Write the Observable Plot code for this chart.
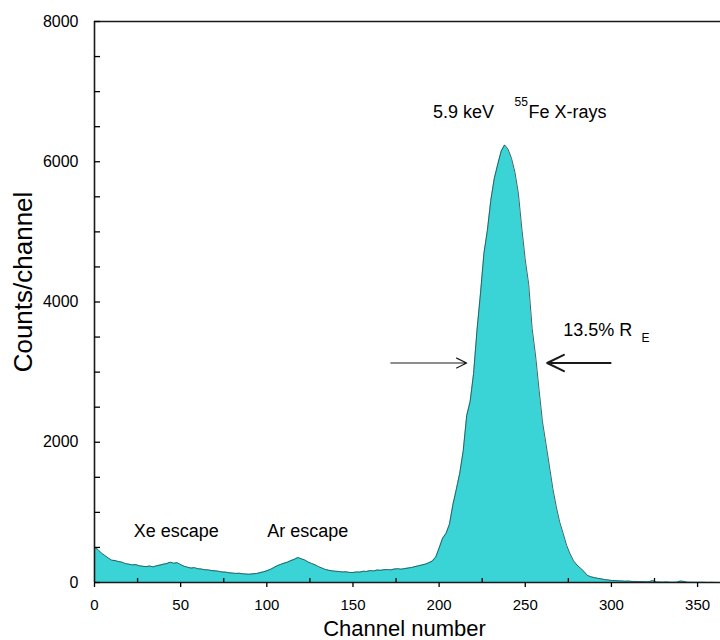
<!DOCTYPE html>
<html>
<head>
<meta charset="utf-8">
<script src="https://cdn.jsdelivr.net/npm/d3@7"></script>
<script src="https://cdn.jsdelivr.net/npm/@observablehq/plot@0.6"></script>
<style>
  html, body { margin: 0; padding: 0; background: #fff; }
  #chart svg { display: block; }
</style>
</head>
<body>
<div id="chart"></div>
<script>
// ---- data ----
const channelStep = 2; // counts below are sampled every 2 channels starting at channel 0
const counts = [
  500, 470, 420, 385, 350, 318, 312, 298, 290, 268,   // 0-18
  262, 250, 255, 238, 232, 226, 236, 222, 238, 248,   // 20-38
  262, 270, 290, 275, 282, 255, 232, 218, 205, 212,   // 40-58
  196, 192, 182, 180, 170, 166, 160, 150, 148, 138,   // 60-78
  134, 130, 132, 124, 120, 118, 124, 128, 140, 152,   // 80-98
  166, 186, 212, 238, 258, 276, 290, 312, 330, 356,   // 100-118
  338, 322, 292, 272, 252, 226, 206, 186, 174, 166,   // 120-138
  160, 156, 150, 152, 144, 142, 150, 148, 160, 158,   // 140-158
  170, 164, 178, 174, 182, 184, 180, 192, 196, 190,   // 160-178
  198, 206, 214, 226, 238, 250, 262, 280, 305, 360,   // 180-198
  490, 630, 700, 830, 1110, 1330, 1560, 1880, 2380, 2580,   // 200-218
  2980, 3600, 4120, 4690, 5020, 5450, 5760, 5960, 6150, 6240, // 220-238
  6180, 6050, 5850, 5550, 5050, 4600, 4250, 3620, 3230, 2750, // 240-258
  2290, 1980, 1660, 1340, 1080, 860, 700, 530, 410, 310,      // 260-278
  248, 205, 160, 102, 82, 70, 60, 52, 42, 36,                 // 280-298
  30, 28, 24, 22, 18, 20, 15, 16, 12, 14,                     // 300-318
  10, 12, 28, 8, 6, 5, 8, 4, 3, 5,                            // 320-338
  20, 16, 4, 3, 2, 2, 3, 2, 1, 2,                             // 340-358
  1, 1                                                        // 360-362
];
const xMajorTicks = [0, 50, 100, 150, 200, 250, 300, 350];
const xMinorTicks = [25, 75, 125, 175, 225, 275, 325];
const yMajorTicks = [0, 2000, 4000, 6000, 8000];
const yAllTicks = [0, 500, 1000, 1500, 2000, 2500, 3000, 3500, 4000, 4500, 5000, 5500, 6000, 6500, 7000, 7500, 8000];

// annotations
const labels = [
  {text: "Xe escape", ch: 22.8, c: 647, size: 18},
  {text: "Ar escape", ch: 100.2, c: 647, size: 18},
  {text: "5.9 keV", ch: 196.5, c: 6624, size: 18},
  {text: "55", ch: 243.8, c: 6790, size: 12},
  {text: "Fe X-rays", ch: 251.9, c: 6624, size: 18},
  {text: "13.5% R", ch: 272.0, c: 3514, size: 18},
  {text: "E", ch: 317.5, c: 3430, size: 12}
];
const arrowLeft = [{x1: 172, x2: 216, c: 3130}];
const arrowRight = [{x1: 299.5, x2: 262.7, c: 3130}];

const spectrum = counts.map((v, i) => ({channel: i * channelStep, counts: v}));

const font = "'Liberation Sans', Arial, Helvetica, sans-serif";
const ink = "#1a1a1a";

const chart = Plot.plot({
  width: 720,
  height: 640,
  marginLeft: 94,
  marginRight: 0,
  marginTop: 21,
  marginBottom: 58,
  style: {fontFamily: font, fontSize: "16px", color: "#000", background: "#fff"},
  x: {domain: [0, 363.3]},
  y: {domain: [0, 8000]},
  marks: [
    Plot.areaY(spectrum, {x: "channel", y: "counts", fill: "#3ad4d6"}),
    Plot.lineY(spectrum, {x: "channel", y: "counts", stroke: "#2a5557", strokeWidth: 0.9}),
    // frame lines
    Plot.ruleX([0], {stroke: ink, strokeWidth: 1.6}),
    Plot.ruleY([0], {stroke: ink, strokeWidth: 1.6}),
    Plot.ruleY([8000], {stroke: ink, strokeWidth: 1.6}),
    // axes
    Plot.axisY({ticks: yMajorTicks, tickSize: 0, tickPadding: 16, fontSize: 16, label: null, tickFormat: d => String(d)}),
    Plot.axisY({ticks: yAllTicks, tickSize: -6, text: null, label: null, strokeWidth: 1.3}),
    Plot.axisX({ticks: xMajorTicks, tickSize: 5, tickPadding: 12, fontSize: 15, label: null, strokeWidth: 1.3, tickFormat: d => String(d)}),
    Plot.axisX({ticks: xMinorTicks, tickSize: -4, text: null, label: null, strokeWidth: 1.3}),
    // axis titles
    Plot.text(["Channel number"], {frameAnchor: "bottom", dy: 53, lineAnchor: "bottom", fontSize: 22, dx: -3}),
    Plot.text(["Counts/channel"], {frameAnchor: "left", dx: -63, dy: -20, rotate: -90, textAnchor: "middle", lineAnchor: "bottom", fontSize: 26}),
    // annotations
    Plot.text(labels.filter(d => d.size === 18), {x: "ch", y: "c", text: "text", textAnchor: "start", lineAnchor: "bottom", fontSize: 18}),
    Plot.text(labels.filter(d => d.size === 12), {x: "ch", y: "c", text: "text", textAnchor: "start", lineAnchor: "bottom", fontSize: 12}),
    Plot.arrow(arrowLeft, {x1: "x1", x2: "x2", y1: "c", y2: "c", stroke: ink, strokeWidth: 1.2, headLength: 14, headAngle: 52}),
    Plot.arrow(arrowRight, {x1: "x1", x2: "x2", y1: "c", y2: "c", stroke: ink, strokeWidth: 2, headLength: 14, headAngle: 52})
  ]
});
document.getElementById("chart").appendChild(chart);
</script>
</body>
</html>
